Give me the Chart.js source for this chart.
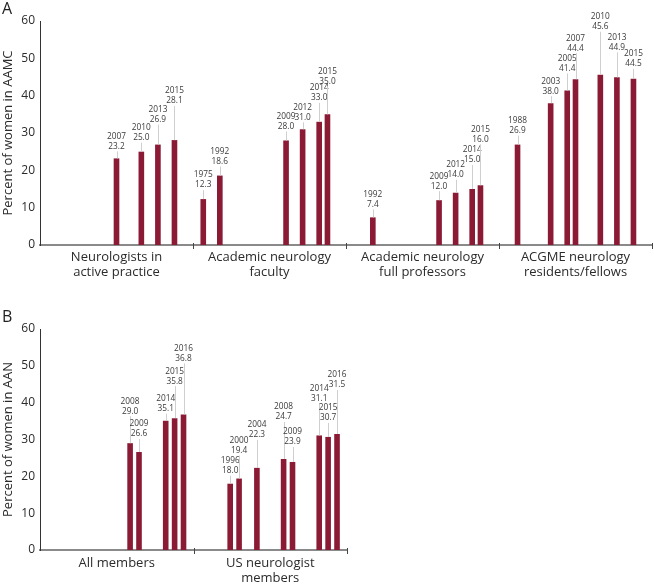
<!DOCTYPE html>
<html>
<head>
<meta charset="utf-8">
<script src="https://cdn.jsdelivr.net/npm/chart.js@4/dist/chart.umd.min.js"></script>
<style>
  html, body { margin: 0; padding: 0; background: #ffffff; }
  #wrap { position: relative; width: 654px; height: 586px; overflow: hidden; }
  canvas { position: absolute; left: 0; }
</style>
</head>
<body>
<div id="wrap">
  <canvas id="chartA" width="654" height="292" style="top:0px"></canvas>
  <canvas id="chartB" width="654" height="286" style="top:300px"></canvas>
</div>
<script>
// ---------------- DATA ----------------
// Panel A (AAMC)
const categoriesA = [
  ["Neurologists in", "active practice"],
  ["Academic neurology", "faculty"],
  ["Academic neurology", "full professors"],
  ["ACGME neurology", "residents/fellows"]
];
const yearSlotsA = [1975, 1988, 1992, 1996, 2000, 2003, 2004, 2005, 2007, 2008, 2009, 2010, 2012, 2013, 2014, 2015, 2016];

const practiceYears = [2007, 2010, 2013, 2015];
const practiceValues = [23.2, 25.0, 26.9, 28.1];

const facultyYears = [1975, 1992, 2009, 2012, 2014, 2015];
const facultyValues = [12.3, 18.6, 28.0, 31.0, 33.0, 35.0];

const professorYears = [1992, 2009, 2012, 2014, 2015];
const professorValues = [7.4, 12.0, 14.0, 15.0, 16.0];

const residentYears = [1988, 2003, 2005, 2007, 2010, 2013, 2015];
const residentValues = [26.9, 38.0, 41.4, 44.4, 45.6, 44.9, 44.5];

// Panel B (AAN)
const categoriesB = [
  ["All members"],
  ["US neurologist", "members"]
];
const yearSlotsB = [1988, 1990, 1992, 1996, 2000, 2002, 2004, 2006, 2007, 2008, 2009, 2012, 2013, 2014, 2015, 2016];

const allMemberYears = [2008, 2009, 2014, 2015, 2016];
const allMemberValues = [29.0, 26.6, 35.1, 35.8, 36.8];

const usNeuroYears = [1996, 2000, 2004, 2008, 2009, 2014, 2015, 2016];
const usNeuroValues = [18.0, 19.4, 22.3, 24.7, 23.9, 31.1, 30.7, 31.5];

const yTicks = [0, 10, 20, 30, 40, 50, 60];

// ---------------- LAYOUT (label placement, px above bar top) ----------------
const labelLiftA = [
  [12, 14, 25, 39],
  [14, 14, 14, 12, 24, 33],
  [13, 14, 18, 29, 46],
  [14, 12, 22, 31, 48, 30, 15]
];
const labelLiftB = [
  [32, 18, 12, 37, 56],
  [13, 28, 33, 42, 20, 37, 19, 49]
];

// ---------------- BUILD ----------------
const BAR = '#8b1a35';
const FONT = "'Open Sans', 'Noto Sans', sans-serif";

function buildDatasets(slots, groups) {
  return slots.map(y => ({
    label: String(y),
    data: groups.map(g => {
      const i = g.years.indexOf(y);
      return i < 0 ? null : g.values[i];
    }),
    backgroundColor: BAR,
    borderWidth: 0
  }));
}

function labelPlugin(slots, groups, lifts, letter, letterY) {
  return {
    id: 'barLabels',
    afterDatasetsDraw(chart) {
      const ctx = chart.ctx;
      ctx.save();
      chart.data.datasets.forEach((ds, di) => {
        const meta = chart.getDatasetMeta(di);
        meta.data.forEach((el, ci) => {
          const v = ds.data[ci];
          if (v === null || v === undefined) return;
          const year = slots[di];
          const k = groups[ci].years.indexOf(year);
          const lift = lifts[ci][k];
          const x = Math.round(el.x) + 0.5;
          const top = el.y;
          const valY = top - lift;
          ctx.strokeStyle = '#cfcfcf';
          ctx.lineWidth = 1;
          ctx.beginPath();
          ctx.moveTo(x, top);
          ctx.lineTo(x, valY + 5);
          ctx.stroke();
          ctx.fillStyle = '#3a3a3a';
          ctx.font = "8.3px " + FONT;
          ctx.textAlign = 'center';
          ctx.textBaseline = 'middle';
          ctx.fillText(v.toFixed(1), el.x, valY);
          ctx.fillText(String(year), el.x, valY - 10);
        });
      });
      ctx.fillStyle = '#222';
      ctx.font = "16px " + FONT;
      ctx.textAlign = 'left';
      ctx.textBaseline = 'alphabetic';
      ctx.fillText(letter, 2, letterY);
      ctx.restore();
    },
    afterDraw(chart) {
      // short category-boundary ticks crossing the x axis
      const sx = chart.scales.x;
      const n = chart.data.labels.length;
      const ctx = chart.ctx;
      const yb = chart.chartArea.bottom;
      ctx.save();
      ctx.strokeStyle = '#444';
      ctx.lineWidth = 1;
      for (let i = 1; i <= n; i++) {
        const x = Math.round(sx.left + i * (sx.right - sx.left) / n) + 0.5;
        ctx.beginPath();
        ctx.moveTo(x, yb - 2);
        ctx.lineTo(x, yb + 4);
        ctx.stroke();
      }
      ctx.restore();
    }
  };
}

function makeChart(id, cats, slots, groups, lifts, opts) {
  return new Chart(document.getElementById(id), {
    type: 'bar',
    data: {
      labels: cats,
      datasets: buildDatasets(slots, groups)
    },
    options: {
      responsive: false,
      animation: false,
      devicePixelRatio: 1,
      events: [],
      layout: { padding: { top: opts.top, right: opts.right, left: 0, bottom: 0 } },
      datasets: {
        bar: {
          categoryPercentage: opts.catPct,
          barPercentage: opts.barPct
        }
      },
      plugins: {
        legend: { display: false },
        tooltip: { enabled: false },
        title: { display: false }
      },
      scales: {
        x: {
          offset: true,
          grid: { display: false, drawTicks: false },
          border: { display: true, color: '#8a8a8a', width: 2 },
          ticks: {
            color: '#2b2b2b',
            font: { family: FONT, size: 13, lineHeight: 1.2 },
            padding: opts.xPad,
            maxRotation: 0,
            autoSkip: false
          },
          afterFit: (s) => { s.height = opts.xHeight; }
        },
        y: {
          min: 0,
          max: 60,
          afterBuildTicks: (s) => { s.ticks = yTicks.map(v => ({ value: v })); },
          grid: { display: false, drawTicks: false },
          border: { display: true, color: '#333', width: 1 },
          ticks: {
            color: '#2b2b2b',
            font: { family: FONT, size: 12 },
            padding: 5
          },
          title: {
            display: true,
            text: opts.yTitle,
            color: '#2b2b2b',
            font: { family: FONT, size: 13 },
            padding: { top: 0, bottom: 0 }
          },
          afterFit: (s) => { s.width = 40; }
        }
      }
    },
    plugins: [labelPlugin(slots, groups, lifts, opts.letter, opts.letterY)]
  });
}

const groupsA = [
  { years: practiceYears, values: practiceValues },
  { years: facultyYears, values: facultyValues },
  { years: professorYears, values: professorValues },
  { years: residentYears, values: residentValues }
];
const groupsB = [
  { years: allMemberYears, values: allMemberValues },
  { years: usNeuroYears, values: usNeuroValues }
];

makeChart('chartA', categoriesA, yearSlotsA, groupsA, labelLiftA, {
  top: 21, right: 2, xHeight: 47, xPad: 4, catPct: 0.92, barPct: 0.68,
  yTitle: 'Percent of women in AAMC', letter: 'A', letterY: 14
});
makeChart('chartB', categoriesB, yearSlotsB, groupsB, labelLiftB, {
  top: 29, right: 307, xHeight: 36, xPad: 5, catPct: 0.928, barPct: 0.63,
  yTitle: 'Percent of women in AAN', letter: 'B', letterY: 22
});
</script>
</body>
</html>
